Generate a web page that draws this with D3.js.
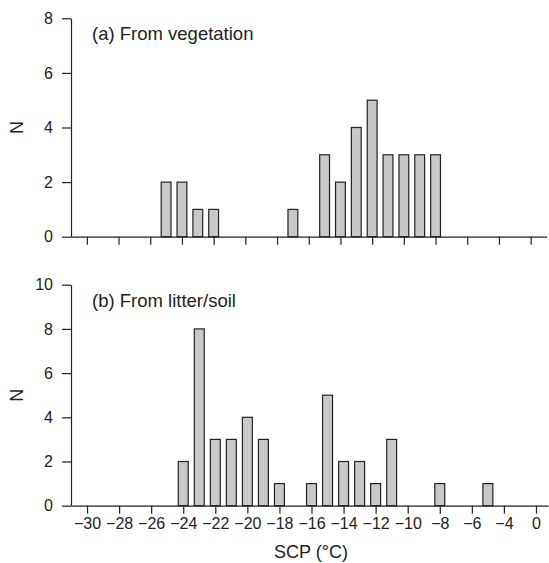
<!DOCTYPE html>
<html>
<head>
<meta charset="utf-8">
<script src="https://cdn.jsdelivr.net/npm/d3@7"></script>
<style>
  body { margin: 0; background: #fff; }
  svg { font-family: "Liberation Sans", Arial, sans-serif; }
</style>
</head>
<body>
<svg id="chart" width="549" height="563"></svg>
<script>
// SCP bins (degrees C) and counts for each panel
const vegBins   = [-25, -24, -23, -22, -17, -15, -14, -13, -12, -11, -10, -9, -8];
const vegCounts = [2, 2, 1, 1, 1, 3, 2, 4, 5, 3, 3, 3, 3];

const soilBins   = [-24, -23, -22, -21, -20, -19, -18, -16, -15, -14, -13, -12, -11, -8, -5];
const soilCounts = [2, 8, 3, 3, 4, 3, 1, 1, 5, 2, 2, 1, 3, 1, 1];

// ticks every 2 degrees; the original labels the last tick "0"
const xTicks      = [-30, -28, -26, -24, -22, -20, -18, -16, -14, -12, -10, -8, -6, -4, -2];
const xTickLabels = ["−30", "−28", "−26", "−24", "−22", "−20", "−18", "−16", "−14", "−12", "−10", "−8", "−6", "−4", "0"];

const svg = d3.select("#chart");
const barW = 0.62;

const drawPanel = (opts) => {
    const x = d3.scaleLinear().domain(opts.xDomain).range([71, opts.xRight]);
    const y = d3.scaleLinear().domain([0, opts.yMax]).range([opts.y0, opts.yTop]);

    const g = svg.append("g");

    g.append("g")
        .selectAll("rect")
        .data(opts.bins.map((b, i) => ({bin: b, n: opts.counts[i]})))
        .enter()
        .append("rect")
            .attr("x", d => x(d.bin - barW / 2))
            .attr("y", d => y(d.n))
            .attr("width", d => x(d.bin + barW / 2) - x(d.bin - barW / 2))
            .attr("height", d => y(0) - y(d.n))
            .style("fill", "#c8c8c8")
            .style("stroke", "#222")
            .style("stroke-width", 1.2);

    const xAxis = d3.axisBottom(x)
        .tickValues(xTicks)
        .tickSize(8)
        .tickPadding(4)
        .tickSizeOuter(0)
        .tickFormat((d, i) => opts.showLabels ? xTickLabels[i] : "");

    const gx = g.append("g")
        .attr("transform", `translate(0,${opts.y0})`)
        .call(xAxis);

    const yAxis = d3.axisLeft(y)
        .ticks(opts.yMax / 2)
        .tickSize(9)
        .tickPadding(9)
        .tickSizeOuter(0);

    const gy = g.append("g")
        .attr("transform", "translate(71,0)")
        .call(yAxis);

    [gx, gy].forEach(a => {
        a.attr("font-size", 16).attr("font-family", "'Liberation Sans', Arial, sans-serif");
        a.selectAll("path, line").style("stroke", "#222").style("stroke-width", 1.2);
        a.selectAll("text").style("fill", "#222");
    });

    g.append("text")
        .attr("x", 92)
        .attr("y", opts.yTop + 22)
        .attr("font-size", 18.5)
        .style("fill", "#222")
        .text(opts.title);

    g.append("text")
        .attr("transform", `translate(23,${(opts.y0 + opts.yTop) / 2}) rotate(-90)`)
        .attr("text-anchor", "middle")
        .attr("font-size", 18)
        .style("fill", "#222")
        .text("N");
};

drawPanel({
    bins: vegBins, counts: vegCounts,
    xDomain: [-31, -1], xRight: 546.5,
    yMax: 8, y0: 236.7, yTop: 18.3,
    title: "(a) From vegetation", showLabels: false
});

drawPanel({
    bins: soilBins, counts: soilCounts,
    xDomain: [-31, -1.25], xRight: 548,
    yMax: 10, y0: 505.7, yTop: 284.7,
    title: "(b) From litter/soil", showLabels: true
});

svg.append("text")
    .attr("x", 311)
    .attr("y", 558)
    .attr("text-anchor", "middle")
    .attr("font-size", 18)
    .style("fill", "#222")
    .text("SCP (°C)");
</script>
</body>
</html>
